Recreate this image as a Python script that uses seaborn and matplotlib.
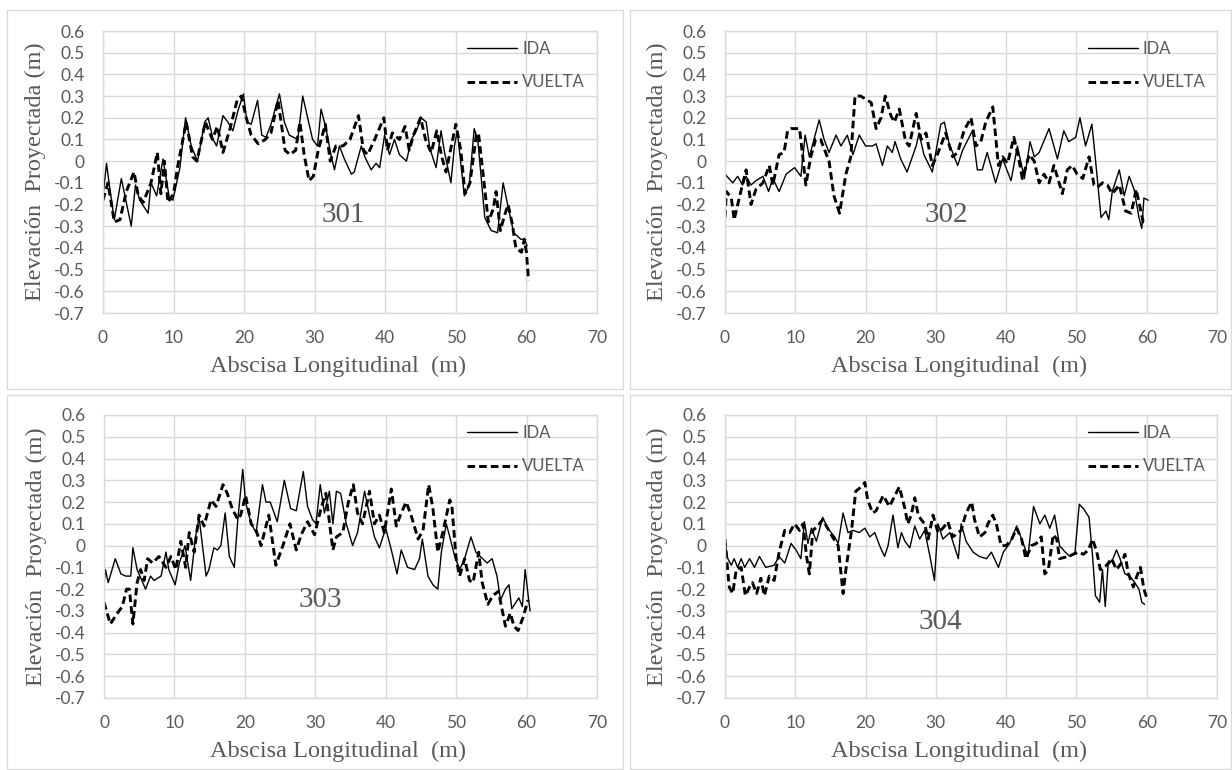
import numpy as np
import pandas as pd
import matplotlib
matplotlib.use("Agg")
import matplotlib.pyplot as plt
from matplotlib.patches import Rectangle
import seaborn as sns

# --- datos (abscisa m, elevacion m) ---
x_301_ida = [0, 0.5, 0.9, 1.6, 2.6, 3.3, 4.0, 4.6, 5.2, 6.4, 6.8, 7.6, 8.5, 9.4, 9.9, 10.9, 11.7, 12.5,
             13.4, 14.4, 14.9, 15.6, 16.1, 17.0, 17.7, 18.4, 19.1, 19.9, 20.4, 21.0, 21.9, 22.5, 23.1,
             23.8, 25.0, 25.7, 26.4, 27.6, 28.3, 29.0, 29.7, 30.4, 30.9, 31.6, 32.3, 32.8, 33.5, 34.2,
             35.2, 35.6, 36.6, 37.1, 38.0, 38.7, 39.2, 39.9, 40.6, 41.3, 42.0, 43.0, 43.7, 44.4, 45.1,
             45.8, 46.3, 47.2, 47.9, 48.4, 49.3, 49.8, 50.2, 51.2, 51.9, 52.6, 53.1, 54.1, 55.0, 55.9,
             56.7, 57.4, 58.2, 59.2, 59.7, 60.1]
y_301_ida = [-0.16, -0.01, -0.11, -0.27, -0.08, -0.19, -0.30, -0.11, -0.18, -0.24, -0.10, -0.16, 0.01,
             -0.17, -0.18, -0.03, 0.20, 0.07, 0.00, 0.18, 0.20, 0.10, 0.07, 0.21, 0.18, 0.14, 0.23, 0.31,
             0.18, 0.17, 0.28, 0.12, 0.11, 0.17, 0.31, 0.18, 0.12, 0.10, 0.30, 0.20, 0.10, 0.07, 0.24,
             0.15, 0.03, -0.04, 0.07, 0.01, -0.06, -0.05, 0.07, 0.02, -0.04, -0.01, -0.03, 0.12, 0.03,
             0.10, 0.03, 0.00, 0.10, 0.14, 0.20, 0.18, 0.06, -0.03, 0.14, 0.04, -0.10, 0.07, 0.14, -0.16,
             -0.11, 0.15, 0.10, -0.26, -0.32, -0.33, -0.10, -0.21, -0.33, -0.36, -0.36, -0.39]
x_301_vue = [0, 0.7, 1.6, 2.4, 3.3, 4.4, 5.0, 5.7, 6.8, 7.7, 8.2, 8.7, 9.2, 10.0, 10.6, 11.8, 12.7, 13.3,
             14.5, 15.5, 16.2, 17.0, 18.0, 19.0, 19.6, 20.3, 21.0, 22.0, 23.0, 23.8, 24.8, 25.8, 26.5,
             27.3, 27.9, 28.5, 29.2, 29.8, 30.5, 31.5, 32.2, 33.0, 34.0, 35.0, 36.2, 36.9, 37.5, 38.5,
             39.8, 40.3, 41.0, 42.0, 42.8, 43.4, 44.0, 45.0, 45.7, 46.5, 47.3, 48.0, 48.6, 50.0, 50.7,
             51.3, 52.0, 52.9, 53.2, 54.0, 54.6, 55.3, 55.7, 56.3, 56.9, 57.4, 58.0, 58.5, 59.3, 59.7,
             60.0, 60.3]
y_301_vue = [-0.18, -0.10, -0.28, -0.27, -0.14, -0.05, -0.16, -0.19, -0.10, 0.04, -0.15, 0.00, -0.19,
             -0.15, -0.02, 0.18, 0.02, 0.00, 0.18, 0.10, 0.16, 0.04, 0.15, 0.28, 0.30, 0.20, 0.12, 0.08,
             0.10, 0.13, 0.28, 0.05, 0.03, 0.05, 0.18, 0.03, -0.09, -0.07, 0.05, 0.17, 0.00, 0.07, 0.07,
             0.10, 0.21, 0.05, 0.03, 0.10, 0.20, 0.05, 0.13, 0.10, 0.16, 0.05, 0.12, 0.20, 0.10, 0.04,
             0.14, 0.02, -0.05, 0.17, 0.05, -0.15, -0.10, 0.12, 0.13, -0.10, -0.28, -0.22, -0.14, -0.32,
             -0.25, -0.20, -0.29, -0.40, -0.42, -0.36, -0.42, -0.55]

x_302_ida = [0, 1.1, 1.8, 2.5, 3.0, 3.7, 4.4, 5.4, 6.2, 6.8, 7.7, 8.7, 9.9, 10.8, 11.4, 12.0, 13.4, 14.1,
             14.8, 15.8, 16.5, 17.4, 18.2, 19.1, 20.0, 21.0, 21.5, 22.4, 23.1, 23.8, 24.2, 25.0, 25.9,
             27.2, 27.6, 28.3, 29.5, 30.7, 31.2, 31.9, 33.1, 33.8, 35.2, 35.9, 36.6, 37.3, 38.5, 39.5,
             40.7, 41.6, 42.6, 43.4, 44.0, 44.7, 46.1, 47.3, 48.2, 48.9, 49.9, 50.5, 51.3, 52.2, 52.7,
             53.5, 54.2, 54.6, 55.1, 56.1, 56.8, 57.5, 58.2, 58.9, 59.3, 59.6, 60.2]
y_302_ida = [-0.06, -0.10, -0.07, -0.11, -0.07, -0.11, -0.09, -0.07, -0.14, -0.08, -0.14, -0.06, -0.03,
             -0.07, 0.12, 0.02, 0.19, 0.10, 0.04, 0.12, 0.07, 0.12, 0.03, 0.12, 0.07, 0.07, 0.08, -0.02,
             0.07, 0.04, 0.09, 0.01, -0.05, 0.07, 0.13, 0.03, -0.05, 0.17, 0.18, 0.08, -0.02, 0.05, 0.14,
             -0.04, -0.04, 0.04, -0.10, 0.01, -0.09, 0.07, -0.08, 0.09, 0.02, 0.04, 0.15, 0.01, 0.14, 0.09,
             0.11, 0.20, 0.07, 0.17, 0.01, -0.26, -0.23, -0.27, -0.14, -0.04, -0.16, -0.07, -0.13, -0.26,
             -0.31, -0.17, -0.18]
x_302_vue = [0, 0.2, 0.9, 1.3, 2.1, 3.0, 3.7, 4.4, 5.4, 6.3, 6.8, 7.7, 8.4, 8.9, 9.4, 10.6, 11.0, 11.5,
             12.2, 12.9, 13.6, 14.8, 15.5, 16.3, 17.2, 17.9, 18.5, 19.3, 20.3, 20.8, 21.5, 22.2, 22.8,
             23.6, 24.1, 24.8, 25.7, 26.2, 27.2, 27.9, 28.6, 29.5, 30.2, 31.4, 32.4, 33.1, 34.0, 35.0,
             35.7, 36.4, 37.1, 38.1, 38.9, 39.5, 40.2, 41.1, 41.8, 42.3, 43.3, 44.0, 44.7, 45.4, 46.1,
             46.8, 48.0, 48.7, 49.4, 50.1, 50.9, 51.8, 52.5, 53.0, 53.7, 54.4, 55.1, 56.1, 57.0, 57.8,
             58.5, 59.5, 60.1]
y_302_vue = [-0.26, -0.14, -0.17, -0.27, -0.16, -0.04, -0.20, -0.13, -0.10, -0.02, -0.11, 0.03, 0.04,
             0.14, 0.15, 0.15, 0.04, -0.11, 0.02, 0.10, 0.10, 0.00, -0.16, -0.24, -0.06, 0.02, 0.30, 0.30,
             0.28, 0.27, 0.15, 0.20, 0.30, 0.21, 0.18, 0.24, 0.09, 0.07, 0.22, 0.10, 0.13, -0.02, 0.03,
             0.13, 0.02, 0.04, 0.14, 0.20, 0.07, 0.09, 0.18, 0.25, -0.02, 0.02, -0.01, 0.11, 0.01, -0.08,
             0.03, 0.00, -0.10, -0.06, -0.10, -0.02, -0.15, -0.04, -0.02, -0.06, -0.08, 0.02, -0.11,
             -0.12, -0.10, -0.11, -0.15, -0.11, -0.23, -0.24, -0.13, -0.28, -0.28]

x_303_ida = [0, 0.2, 0.6, 1.6, 2.4, 3.1, 3.8, 4.1, 4.7, 5.9, 6.6, 7.1, 8.1, 8.8, 9.2, 10.1, 10.7, 11.5,
             12.3, 13.0, 13.5, 14.5, 14.9, 15.6, 16.1, 16.6, 17.2, 17.8, 18.5, 19.0, 19.7, 20.1, 20.9,
             21.6, 22.5, 23.0, 23.6, 24.6, 25.6, 26.5, 27.3, 28.3, 28.9, 29.6, 30.1, 30.7, 31.3, 32.0,
             32.5, 33.0, 33.6, 34.4, 35.3, 36.0, 37.0, 37.7, 38.4, 39.1, 40.0, 40.8, 41.6, 42.2, 43.1,
             44.1, 44.8, 45.2, 46.0, 46.7, 47.4, 47.9, 48.6, 49.1, 49.8, 50.5, 51.2, 52.1, 52.8, 54.4,
             55.1, 55.8, 56.3, 57.0, 57.5, 57.9, 58.9, 59.4, 59.8, 60.3, 60.5]
y_303_ida = [-0.18, -0.11, -0.17, -0.06, -0.13, -0.14, -0.14, -0.01, -0.11, -0.20, -0.14, -0.16, -0.14,
             -0.03, -0.11, -0.18, -0.08, 0.00, -0.16, 0.04, 0.13, -0.14, -0.11, -0.01, -0.02, 0.00, 0.15,
             -0.05, -0.10, 0.12, 0.35, 0.20, 0.10, 0.06, 0.28, 0.20, 0.20, 0.11, 0.30, 0.17, 0.16, 0.34,
             0.18, 0.12, 0.10, 0.28, 0.15, 0.25, 0.10, 0.25, 0.24, 0.10, 0.00, 0.06, 0.25, 0.14, 0.04,
             -0.01, 0.08, -0.02, -0.13, -0.02, -0.10, -0.11, -0.06, 0.03, -0.14, -0.18, -0.20, -0.03, 0.10,
             0.04, -0.05, -0.11, -0.06, 0.04, -0.03, -0.08, -0.06, -0.14, -0.25, -0.20, -0.18, -0.29,
             -0.24, -0.28, -0.11, -0.25, -0.30]
x_303_vue = [0, 0.9, 1.9, 2.6, 3.2, 3.6, 4.1, 4.7, 5.2, 5.7, 6.2, 6.9, 7.8, 8.8, 9.5, 10.2, 10.9, 11.6,
             12.1, 12.8, 13.5, 14.2, 15.2, 15.9, 16.9, 17.5, 18.2, 19.0, 19.4, 20.1, 20.9, 21.6, 22.3,
             23.4, 24.4, 25.4, 26.4, 27.3, 28.0, 28.9, 29.9, 30.8, 31.5, 32.5, 33.0, 33.9, 34.7, 35.4,
             36.0, 36.7, 37.7, 38.4, 39.1, 39.8, 40.8, 41.5, 42.2, 42.9, 43.6, 44.6, 45.3, 46.1, 46.7,
             47.4, 48.1, 49.1, 49.4, 50.0, 50.5, 51.2, 51.9, 52.4, 53.2, 53.7, 54.5, 55.2, 56.0, 57.0,
             57.7, 58.2, 58.8, 59.5, 60.2]
y_303_vue = [-0.26, -0.36, -0.31, -0.28, -0.20, -0.20, -0.36, -0.17, -0.11, -0.16, -0.06, -0.08, -0.05,
             -0.10, -0.05, -0.11, 0.02, -0.10, 0.06, -0.03, 0.14, 0.09, 0.21, 0.18, 0.28, 0.24, 0.17,
             0.12, 0.14, 0.23, 0.10, 0.07, 0.00, 0.14, -0.09, 0.00, 0.10, -0.02, 0.05, 0.11, 0.05, 0.17,
             0.24, -0.02, 0.04, 0.06, 0.20, 0.28, 0.15, 0.10, 0.25, 0.10, 0.14, 0.06, 0.26, 0.09, 0.15,
             0.20, 0.14, 0.03, 0.07, 0.28, 0.17, -0.03, 0.06, 0.21, 0.18, -0.06, -0.14, -0.06, -0.16,
             -0.17, -0.03, -0.17, -0.27, -0.23, -0.21, -0.37, -0.31, -0.37, -0.39, -0.33, -0.25]

x_304_ida = [0, 0.4, 0.9, 1.3, 1.8, 2.3, 2.8, 3.5, 4.2, 4.9, 5.8, 7.0, 7.7, 8.5, 9.4, 10.1, 10.8, 11.3,
             11.8, 12.3, 13.0, 13.9, 14.6, 15.6, 16.1, 16.8, 17.5, 18.2, 19.1, 19.9, 20.6, 21.3, 22.0,
             22.7, 23.2, 23.9, 24.6, 25.1, 25.6, 26.3, 27.0, 27.7, 28.4, 29.1, 29.8, 30.3, 31.0, 32.0,
             33.2, 33.6, 34.3, 35.3, 36.2, 37.2, 37.9, 38.9, 39.6, 40.5, 41.5, 42.2, 43.1, 43.9, 44.8,
             45.5, 46.2, 46.9, 47.6, 48.4, 49.1, 49.8, 50.4, 51.0, 51.8, 52.3, 52.7, 53.3, 53.7, 54.1,
             54.5, 55.2, 55.7, 56.2, 56.9, 57.6, 58.3, 58.9, 59.3, 59.7]
y_304_ida = [0.02, -0.06, -0.09, -0.06, -0.10, -0.06, -0.10, -0.06, -0.10, -0.05, -0.10, -0.09, -0.05,
             -0.08, 0.01, -0.02, -0.06, 0.11, 0.01, 0.08, 0.02, 0.13, 0.08, 0.04, 0.01, 0.15, 0.06, 0.07,
             0.06, 0.08, 0.04, 0.06, 0.00, -0.05, 0.00, 0.14, -0.01, 0.06, 0.02, -0.01, 0.09, 0.03, 0.07,
             -0.04, -0.16, 0.10, 0.03, 0.06, -0.06, 0.10, 0.02, -0.03, -0.05, -0.06, -0.03, -0.10, -0.03,
             0.01, 0.09, 0.03, -0.05, 0.18, 0.10, 0.14, 0.08, 0.14, 0.00, -0.03, -0.05, -0.03, 0.19,
             0.17, 0.13, -0.05, -0.23, -0.26, -0.11, -0.28, -0.09, -0.06, -0.02, -0.06, -0.13, -0.14,
             -0.17, -0.20, -0.26, -0.27]
x_304_vue = [0, 0.2, 0.6, 1.1, 1.6, 2.3, 2.9, 3.5, 3.9, 4.5, 5.1, 5.6, 6.3, 7.0, 7.7, 8.5, 9.2, 9.9,
             10.6, 11.1, 11.6, 12.0, 12.5, 13.2, 13.9, 15.3, 16.1, 16.8, 17.2, 18.0, 18.6, 19.4, 19.9,
             20.3, 21.0, 21.5, 22.5, 23.4, 24.8, 25.6, 26.0, 26.5, 27.0, 27.5, 27.9, 28.4, 28.9, 29.6,
             30.3, 31.0, 31.7, 32.4, 33.6, 34.3, 35.1, 35.5, 36.2, 37.0, 37.4, 38.1, 38.6, 39.3, 40.0,
             40.8, 41.5, 42.2, 42.8, 43.6, 44.3, 45.0, 45.5, 46.0, 46.7, 47.2, 47.6, 48.8, 50.3, 51.0,
             51.7, 52.3, 52.9, 53.4, 54.3, 55.0, 55.7, 56.4, 56.9, 57.4, 58.1, 58.6, 59.1, 59.6, 60.1]
y_304_vue = [0.03, -0.05, -0.19, -0.22, -0.11, -0.10, -0.23, -0.19, -0.17, -0.22, -0.15, -0.23, -0.14,
             -0.16, -0.03, 0.07, 0.06, 0.10, 0.07, 0.10, -0.05, -0.13, 0.07, 0.09, 0.12, 0.04, 0.00,
             -0.22, -0.11, 0.07, 0.25, 0.27, 0.29, 0.21, 0.15, 0.16, 0.23, 0.18, 0.27, 0.17, 0.10, 0.14,
             0.22, 0.14, 0.12, 0.10, 0.03, 0.14, 0.06, 0.08, 0.11, 0.04, 0.07, 0.15, 0.20, 0.12, 0.04,
             0.06, 0.10, 0.14, 0.10, 0.00, 0.00, 0.03, 0.08, 0.03, -0.06, 0.00, 0.01, 0.04, -0.13, -0.11,
             0.05, 0.03, -0.06, -0.05, -0.03, -0.04, -0.02, 0.03, -0.03, -0.11, -0.09, -0.06, -0.11,
             -0.08, -0.04, -0.13, -0.19, -0.14, -0.10, -0.20, -0.25]

paneles = ["301", "302", "303", "304"]
pos_num = [(34.0, -0.25), (31.5, -0.25), (30.7, -0.25), (30.6, -0.35)]
datos = {
    "301": (x_301_ida, y_301_ida, x_301_vue, y_301_vue),
    "302": (x_302_ida, y_302_ida, x_302_vue, y_302_vue),
    "303": (x_303_ida, y_303_ida, x_303_vue, y_303_vue),
    "304": (x_304_ida, y_304_ida, x_304_vue, y_304_vue),
}
y_ticks = [0.6, 0.5, 0.4, 0.3, 0.2, 0.1, 0, -0.1, -0.2, -0.3, -0.4, -0.5, -0.6, -0.7]
y_labels = ["0.6", "0.5", "0.4", "0.3", "0.2", "0.1", "0", "-0.1", "-0.2", "-0.3", "-0.4", "-0.5", "-0.6", "-0.7"]
x_ticks = [0, 10, 20, 30, 40, 50, 60, 70]

sns.set_theme(style="whitegrid")
plt.rcParams["font.family"] = ["Lato", "DejaVu Sans"]
gris = "#595959"
rejilla = "#d9d9d9"

W, H = 1232, 770
fig = plt.figure(figsize=(W / 100, H / 100), dpi=100)

# marcos de cada grafico (px)
marcos = [(7, 10, 623, 389), (630, 10, 1231, 389), (7, 395, 623, 769), (630, 395, 1231, 769)]
for (x0, y0, x1, y1) in marcos:
    fig.add_artist(Rectangle((x0 / W, 1 - y1 / H), (x1 - x0) / W, (y1 - y0) / H,
                             transform=fig.transFigure, fill=False, edgecolor=rejilla, lw=0.9))

# areas de trazado (px): izquierda, arriba, derecha, abajo
areas = [(103, 31, 597, 313), (725, 31, 1217, 313), (104, 415, 597, 698), (725, 415, 1217, 698)]

for i, p in enumerate(paneles):
    l, t, r, b = areas[i]
    ax = fig.add_axes([l / W, 1 - b / H, (r - l) / W, (b - t) / H])
    xi, yi, xv, yv = datos[p]
    sns.lineplot(x=xi, y=yi, ax=ax, color="black", lw=1.0, label="IDA", sort=False, estimator=None)
    sns.lineplot(x=xv, y=yv, ax=ax, color="black", lw=2.1, label="VUELTA", sort=False, estimator=None)
    ax.lines[1].set_dashes((2.6, 1.4))
    ax.set_xlim(0, 70)
    ax.set_ylim(-0.7, 0.6)
    ax.set_xticks(x_ticks)
    ax.set_yticks(y_ticks)
    ax.set_yticklabels(y_labels)
    ax.grid(True, color=rejilla, lw=1.0)
    for s in ax.spines.values():
        s.set_color(rejilla)
        s.set_linewidth(1.0)
    ax.tick_params(axis="both", length=0, labelsize=12.5, colors=gris)
    ax.tick_params(axis="y", pad=13)
    ax.tick_params(axis="x", pad=12)
    ax.set_xlabel("Abscisa Longitudinal  (m)", family="Liberation Serif", fontsize=17.5, color=gris, labelpad=7)
    ax.xaxis.label.set_x(0.475)
    ax.set_ylabel("Elevación  Proyectada (m)", family="Liberation Serif", fontsize=17.5, color=gris, labelpad=6)
    nx, ny = pos_num[i]
    ax.text(nx, ny, p, ha="center", va="center", family="Liberation Serif", fontsize=21, color=gris)
    leg = ax.legend(loc="upper left", bbox_to_anchor=(0.737, 0.965), frameon=False, fontsize=12,
                    handlelength=3.0, handletextpad=0.3, labelspacing=1.05, borderpad=0, borderaxespad=0)
    for txt in leg.get_texts():
        txt.set_color(gris)

fig.savefig("out.png", dpi=100)
